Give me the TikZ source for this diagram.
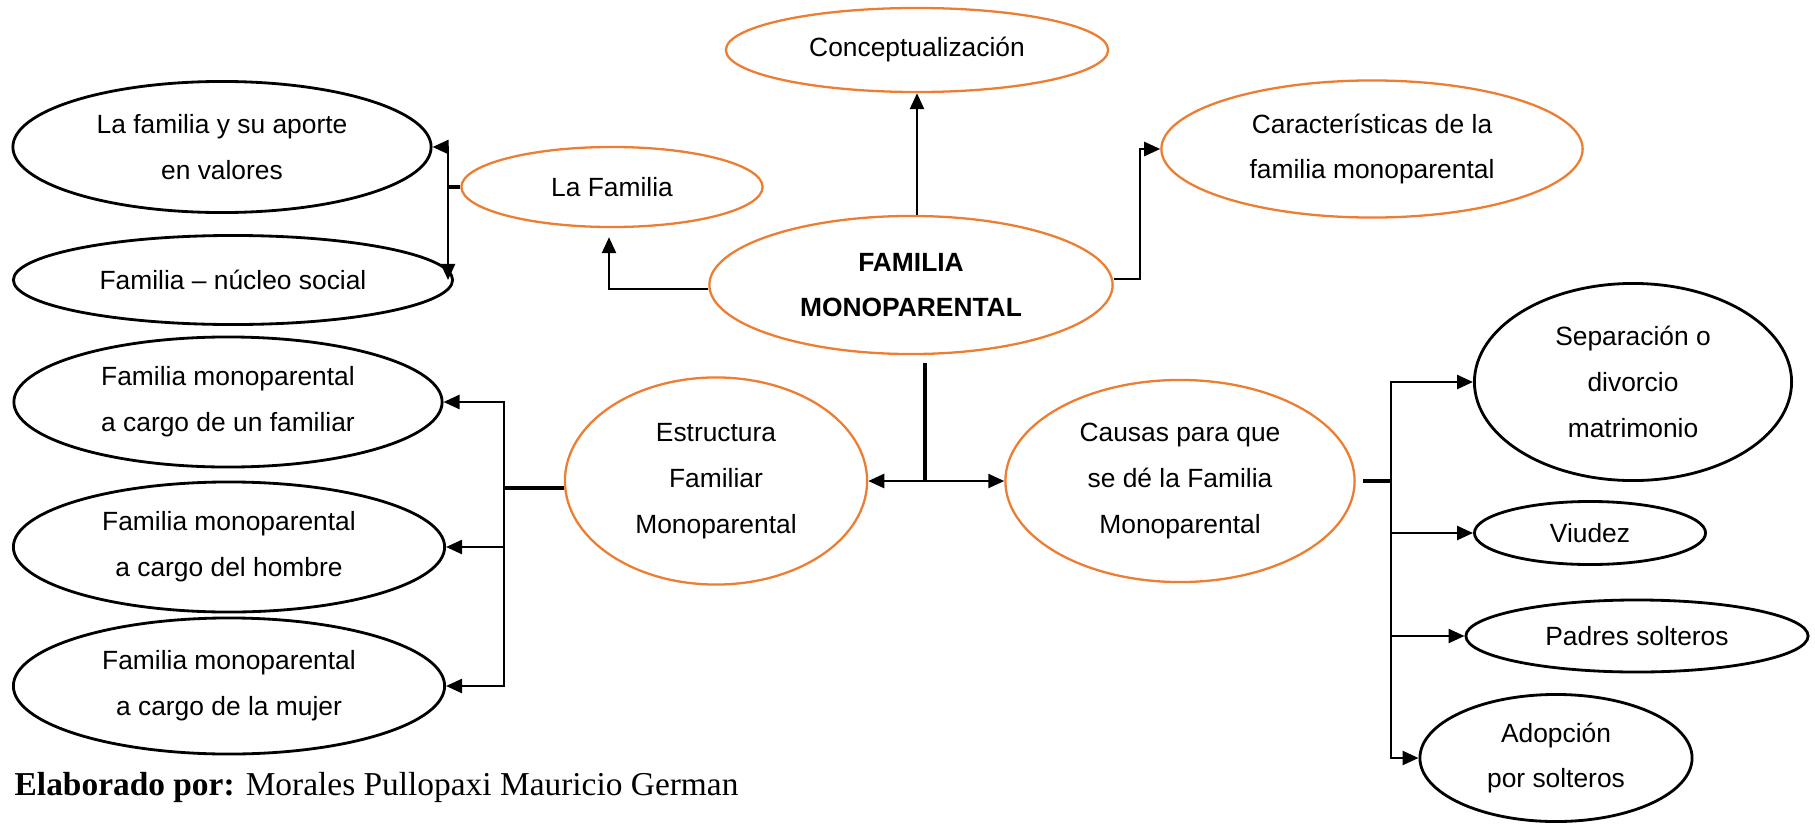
\documentclass[tikz,border=0pt]{standalone}
\usepackage{fontspec}
\setmainfont{Liberation Serif}
\newfontfamily\arialfont{Liberation Sans}
\usetikzlibrary{arrows.meta, shapes.geometric, positioning, calc}
\definecolor{naranja}{RGB}{237,125,49}

\begin{document}
\begin{tikzpicture}[x=0.01cm, y=-0.01cm,
		every node/.style={font={\arialfont\fontsize{7.5}{13}\selectfont}, align=center, inner sep=0pt},
		ora/.style={ellipse, draw=naranja, line width=0.65pt},
		blk/.style={ellipse, draw, line width=0.8pt},
		negrita/.style={font={\arialfont\bfseries\fontsize{7.5}{13}\selectfont}},
		con/.style={line width=0.7pt, -{Triangle[length=0.16cm, width=0.14cm]}},
		bar/.style={line width=1.2pt}]
				\useasboundingbox (0,0) rectangle (1815,824);
				\node [ora, minimum width=3.82cm, minimum height=0.84cm] (con) at (917,50) {Conceptualización};
				\node [ora, minimum width=3.01cm, minimum height=0.80cm] (lf) at (612,187) {La Familia};
				\node [ora, minimum width=4.21cm, minimum height=1.37cm] (car) at (1372,149) {Características de la\\familia monoparental};
				\node [ora, negrita, minimum width=4.03cm, minimum height=1.38cm] (fm) at (911,285) {FAMILIA\\MONOPARENTAL};
				\node [ora, minimum width=3.02cm, minimum height=2.07cm] (est) at (716,481) {Estructura\\Familiar\\Monoparental};
				\node [ora, minimum width=3.49cm, minimum height=2.02cm] (cau) at (1180,481) {Causas para que\\se dé la Familia\\Monoparental};
				
				\node [blk, minimum width=4.18cm, minimum height=1.31cm] (val) at (222,147) {La familia y su aporte\\en valores};
				\node [blk, minimum width=4.39cm, minimum height=0.89cm] (nuc) at (233,280) {Familia – núcleo social};
				\node [blk, minimum width=4.28cm, minimum height=1.30cm] (fam) at (228,402) {Familia monoparental\\a cargo de un familiar};
				\node [blk, minimum width=4.31cm, minimum height=1.30cm] (hom) at (229,547) {Familia monoparental\\a cargo del hombre};
				\node [blk, minimum width=4.31cm, minimum height=1.36cm] (muj) at (229,686) {Familia monoparental\\a cargo de la mujer};
				\node [blk, minimum width=3.17cm, minimum height=1.97cm] (sep) at (1633,382) {Separación o\\divorcio\\matrimonio};
				\node [blk, minimum width=2.31cm, minimum height=0.63cm] (viu) at (1590,533) {Viudez};
				\node [blk, minimum width=3.42cm, minimum height=0.72cm] (pad) at (1637,636) {Padres solteros};
				\node [blk, minimum width=2.72cm, minimum height=1.27cm] (ado) at (1556,758) {Adopción\\por solteros};
				
				\node [anchor=base west, font={\rmfamily\fontsize{9.5}{12}\selectfont}] (autor) at (14,795) {\textbf{Elaborado por:} Morales Pullopaxi Mauricio German};
				
				\coordinate (hub) at (925,481);
				\coordinate (jlf) at (448,187);
				\coordinate (jizq) at (609,289);
				\coordinate (jder) at (1140,279);
				\coordinate (jest) at (504,488);
				\coordinate (jcau) at (1391,481);
				
				\draw [bar, shorten <=0.08cm] (fm.south -| hub) -- (hub);
				\draw [con] (hub) -- (est.east);
				\draw [con] (hub) -- (cau.west);
				\draw [con] (fm.north -| con.south) -- (con.south);
				\draw [con, shorten >=0.09cm] (fm.west |- jizq) -- (jizq) -- (jizq |- lf.south);
				\draw [con] (fm.east |- jder) -- (jder) |- (car.west);
				
				\draw [bar] (lf.west) -- (jlf);
				\draw [con] (jlf) |- (val.east);
				\draw [con] (jlf) -- (jlf |- nuc.east);
				
				\draw [bar] (est.west |- jest) -- (jest);
				\draw [con] (jest) |- (fam.east);
				\draw [con] (jest) |- (hom.east);
				\draw [con] (jest) |- (muj.east);
				
				\draw [bar] ([xshift=0.07cm]cau.east) -- (jcau);
				\draw [con] (jcau) |- (sep.west);
				\draw [con] (jcau) |- (viu.west);
				\draw [con] (jcau) |- (pad.west);
				\draw [con] (jcau) |- (ado.west);
\end{tikzpicture}
\end{document}
